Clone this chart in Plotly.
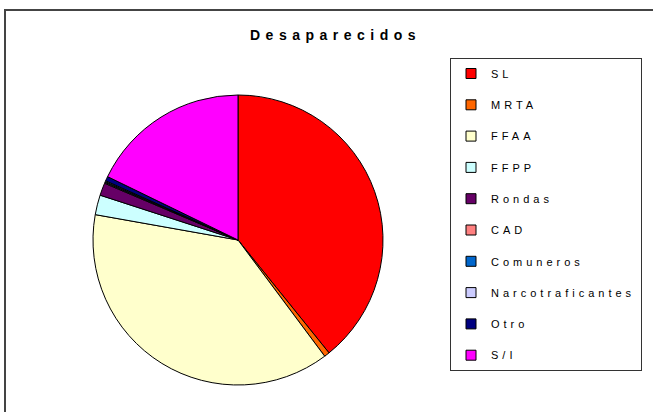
import plotly.graph_objects as go

labels = ["SL", "MRTA", "FFAA", "FFPP", "Rondas", "CAD", "Comuneros",
          "Narcotraficantes", "Otro", "S/I"]
values = [39.2, 0.6, 38.0, 2.2, 1.4, 0.1, 0.1, 0.1, 0.5, 17.8]
colors = ["#FF0000", "#FF6600", "#FFFFCC", "#CCFFFF", "#660066", "#FF8080",
          "#0066CC", "#CCCCFF", "#000080", "#FF00FF"]
title = "Desaparecidos"

W, H = 653, 412
cx, cy, r = 238, 240, 145
FONT = "Liberation Sans, Arial, sans-serif"

fig = go.Figure()
fig.add_trace(go.Pie(
    labels=labels, values=values, sort=False, direction="clockwise", rotation=0,
    marker=dict(colors=colors, line=dict(color="#000000", width=1)),
    textinfo="none", hoverinfo="label+percent", showlegend=False,
    domain=dict(x=[(cx - r) / W, (cx + r) / W], y=[1 - (cy + r) / H, 1 - (cy - r) / H]),
))
for i, (lab, col) in enumerate(zip(labels, colors)):
    fig.add_trace(go.Scatter(
        x=[None], y=[None], mode="markers",
        name='<span style="letter-spacing:4px">' + lab + '</span>',
        legendgroup="g%d" % i,
        marker=dict(symbol="square", size=10, color=col, line=dict(color="#000000", width=1)),
        showlegend=True,
    ))

fig.update_layout(
    width=W, height=H,
    margin=dict(l=0, r=0, t=0, b=0),
    paper_bgcolor="white", plot_bgcolor="white",
    xaxis=dict(visible=False), yaxis=dict(visible=False),
    font=dict(family=FONT, size=11, color="#000000"),
    legend=dict(
        x=450 / W, y=1 - 58 / H, xanchor="left", yanchor="top",
        bordercolor="#333333", borderwidth=1, bgcolor="white",
        tracegroupgap=12.3, itemwidth=30,
        font=dict(family=FONT, size=11, color="#000000"),
    ),
    annotations=[dict(
        text='<b><span style="letter-spacing:5.5px">' + title + '</span></b>',
        x=248 / W, y=1 - 35 / H, xref="paper", yref="paper",
        showarrow=False, xanchor="left", yanchor="middle",
        font=dict(family=FONT, size=14, color="#000000"),
    )],
    shapes=[dict(
        type="rect", xref="paper", yref="paper",
        x0=5 / W, x1=1.05, y0=-0.05, y1=1 - 10 / H,
        line=dict(color="#444444", width=2), fillcolor="rgba(0,0,0,0)", layer="below",
    )],
)

fig.write_html("out.html", config={"displayModeBar": False},
               post_script="document.body.style.margin='0';document.body.style.overflow='hidden';")
